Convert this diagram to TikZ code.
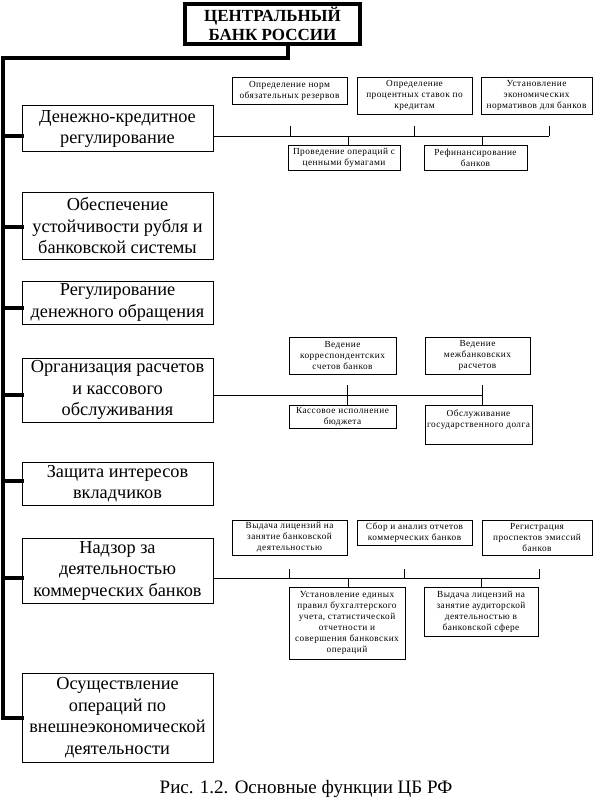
\documentclass[tikz,border=0pt]{standalone}
\usepackage{fontspec}
\setmainfont{Liberation Serif}
\newfontfamily\smallfont{Liberation Serif}[LetterSpace=5]
\newcommand\pbox[7]{\node[#1, minimum width={(#5-#3)*1pt}, minimum height={(#6-#4)*1pt}] (#2) at ({(#3+#5)/2},{(#4+#6)/2}) {#7};}
\begin{document}
\begin{tikzpicture}[x=1pt,y=-1pt,
  mainbox/.style={draw, line width=1pt, align=center, inner sep=0pt, font=\fontsize{18.3}{21.5}\selectfont},
  smallbox/.style={draw, line width=0.8pt, align=center, inner sep=0pt, font=\smallfont\fontsize{9.3}{11}\selectfont},
  titlebox/.style={draw, line width=3.5pt, align=center, inner sep=0pt, font=\bfseries\fontsize{17}{19}\selectfont},
  trunk/.style={line width=4pt, line cap=rect},
  conn/.style={line width=0.9pt}]
\useasboundingbox (0,0) rectangle (598,802);

% title
\pbox{titlebox}{title}{185}{4}{360}{44}{ЦЕНТРАЛЬНЫЙ\\БАНК РОССИИ}

% main boxes
\pbox{mainbox}{b1}{22}{106}{213}{152}{Денежно-кредитное\\регулирование}
\pbox{mainbox}{b2}{22}{193}{213}{259}{Обеспечение\\устойчивости рубля и\\банковской системы}
\pbox{mainbox}{b3}{22}{281}{213}{324}{Регулирование\\денежного обращения}
\pbox{mainbox}{b4}{22}{358}{213}{422}{Организация расчетов\\и кассового\\обслуживания}
\pbox{mainbox}{b5}{22}{462}{213}{505}{Защита интересов\\вкладчиков}
\pbox{mainbox}{b6}{22}{538}{213}{603}{Надзор за\\деятельностью\\коммерческих банков}
\pbox{mainbox}{b7}{22}{673}{213}{762}{Осуществление\\операций по\\внешнеэкономической\\деятельности}

% trunk
\coordinate (t0) at (288,58);
\coordinate (t1) at (2.5,58);
\coordinate (t2) at (2.5,718);
\draw[trunk] (title.south -| t0) -- (t0) -- (t1) -- (t2);
\foreach \n/\y in {1/136,2/227,3/308,4/395,5/481,6/578,7/718}{
  \coordinate (s\n) at (2.5,\y);
  \draw[trunk] (s\n) -- (s\n -| b\n.west);
}

% group 1
\pbox{smallbox}{a1}{232}{77}{347}{104}{Определение норм\\обязательных резервов}
\pbox{smallbox}{a2}{357}{77}{472}{114}{Определение\\процентных ставок по\\кредитам}
\pbox{smallbox}{a3}{481}{77}{592}{114}{Установление\\экономических\\нормативов для банков}
\pbox{smallbox}{a4}{288}{145}{400}{170}{Проведение операций с\\ценными бумагами}
\pbox{smallbox}{a5}{424}{145}{527}{170}{Рефинансирование\\банков}
\coordinate (e1) at (549,136);
\draw[conn] (s1 -| b1.east) -- (e1);
\foreach \x in {290,414,549}{\draw[conn] (\x,136) -- (\x,126);}
\draw[conn] (348,136) -- (348,136 |- a4.north);
\draw[conn] (482,136) -- (482,136 |- a5.north);

% group 2
\pbox{smallbox}{c1}{289}{337}{396}{374}{Ведение\\корреспондентских\\счетов банков}
\pbox{smallbox}{c2}{425}{337}{530}{374}{Ведение\\межбанковских\\расчетов}
\pbox{smallbox}{c3}{289}{405}{396}{428}{Кассовое исполнение\\бюджета}
\pbox{smallbox}{c4}{425}{405}{532}{444}{Обслуживание\\государственного долга\\\mbox{}}
\coordinate (e4) at (482,395);
\draw[conn] (s4 -| b4.east) -- (e4);
\foreach \x in {347,482}{\draw[conn] (\x,385) -- (\x,405);}

% group 3
\pbox{smallbox}{d1}{232}{520}{347}{555}{Выдача лицензий на\\занятие банковской\\деятельностью}
\pbox{smallbox}{d2}{357}{520}{472}{545}{Сбор и анализ отчетов\\коммерческих банков}
\pbox{smallbox}{d3}{482}{520}{592}{555}{Регистрация\\проспектов эмиссий\\банков}
\pbox{smallbox}{d4}{289}{587}{405}{659}{Установление единых\\правил бухгалтерского\\учета, статистической\\отчетности и\\совершения банковских\\операций}
\pbox{smallbox}{d5}{424}{587}{538}{636}{Выдача лицензий на\\занятие аудиторской\\деятельностью в\\банковской сфере}
\coordinate (e6) at (540,578);
\draw[conn] (s6 -| b6.east) -- (e6);
\foreach \x in {289,404,539}{\draw[conn] (\x,578) -- (\x,569);}
\draw[conn] (348,578) -- (348,578 |- d4.north);
\draw[conn] (481,578) -- (481,578 |- d5.north);

% caption
\node[font=\fontsize{19}{21}\selectfont, inner sep=0pt] (caption) at (306,789) {Рис. 1.2. Основные функции ЦБ РФ};
\end{tikzpicture}
\end{document}
